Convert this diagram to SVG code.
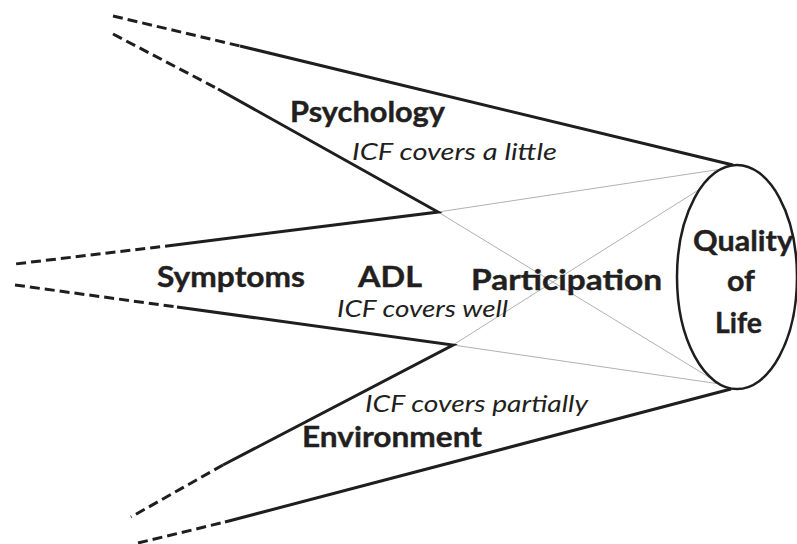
<svg xmlns="http://www.w3.org/2000/svg" width="797" height="544" viewBox="0 0 797 544">
<style>
.bg{fill:#fff}
.thick{stroke:#1e1e1e;stroke-width:3;fill:none;stroke-linecap:butt}
.dash{stroke:#1e1e1e;stroke-width:3;fill:none;stroke-dasharray:10 5}
.thin{stroke:#a8a8a8;stroke-width:0.9;fill:none}
.ell{fill:none;stroke:#1e1e1e;stroke-width:2.5}
.b{font-family:Lato,"Open Sans","Liberation Sans",sans-serif;font-weight:bold;font-size:29px;fill:#231f20;stroke:#231f20;stroke-width:0.4}
.i{font-family:Lato,"Open Sans","Liberation Sans",sans-serif;font-style:italic;font-size:22.5px;fill:#231f20}
</style>
<rect class="bg" x="0" y="0" width="797" height="544"/>
<g id="connectors">
  <line class="thin" x1="438" y1="212" x2="722" y2="169"/>
  <line class="thin" x1="438" y1="212" x2="712" y2="379"/>
  <line class="thin" x1="453" y1="345" x2="700" y2="189"/>
  <line class="thin" x1="453" y1="345" x2="720" y2="384"/>
  <line class="dash" x1="113" y1="16" x2="240" y2="46"/>
  <line class="thick" x1="240" y1="46" x2="733" y2="165"/>
  <line class="dash" x1="113" y1="34" x2="218" y2="89"/>
  <polyline class="thick" points="218,89 438,212 175,245"/>
  <line class="dash" x1="175" y1="245" x2="15" y2="264"/>
  <line class="dash" x1="15" y1="285" x2="177" y2="307"/>
  <polyline class="thick" points="177,307 453,345 223,465"/>
  <line class="dash" x1="223" y1="465" x2="131" y2="517"/>
  <line class="dash" x1="138" y1="543" x2="225" y2="522"/>
  <line class="thick" x1="225" y1="522" x2="731" y2="389"/>
</g>
<g id="quality-of-life">
  <ellipse class="ell" cx="737" cy="277" rx="60" ry="112"/>
  <text class="b" x="693" y="251" textLength="100" lengthAdjust="spacingAndGlyphs">Quality</text>
  <text class="b" x="727" y="291" textLength="28" lengthAdjust="spacingAndGlyphs">of</text>
  <text class="b" x="715" y="333" textLength="47" lengthAdjust="spacingAndGlyphs">Life</text>
</g>
<g id="psychology">
  <text class="b" x="290" y="122" textLength="155" lengthAdjust="spacingAndGlyphs">Psychology</text>
  <text class="i" x="352" y="160" textLength="205" lengthAdjust="spacingAndGlyphs">ICF covers a little</text>
</g>
<g id="symptoms">
  <text class="b" x="157" y="287" textLength="148" lengthAdjust="spacingAndGlyphs">Symptoms</text>
</g>
<g id="adl">
  <text class="b" x="358" y="287" textLength="64" lengthAdjust="spacingAndGlyphs">ADL</text>
  <text class="i" x="337" y="317" textLength="171" lengthAdjust="spacingAndGlyphs">ICF covers well</text>
</g>
<g id="participation">
  <text class="b" x="471" y="290" textLength="191" lengthAdjust="spacingAndGlyphs">Participation</text>
</g>
<g id="environment">
  <text class="i" x="365" y="412" textLength="223" lengthAdjust="spacingAndGlyphs">ICF covers partially</text>
  <text class="b" x="302" y="447" textLength="180" lengthAdjust="spacingAndGlyphs">Environment</text>
</g>
</svg>
